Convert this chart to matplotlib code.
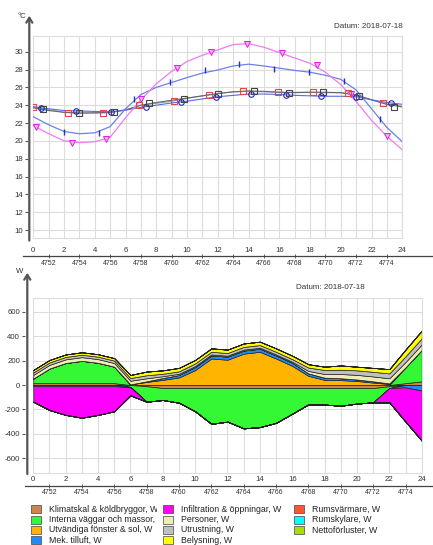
import matplotlib
matplotlib.use('Agg')
import matplotlib.pyplot as plt
import numpy as np
from matplotlib.patches import Rectangle
from matplotlib.lines import Line2D
from matplotlib.transforms import Bbox, TransformedBbox

plt.rcParams['font.family'] = ['Liberation Sans', 'DejaVu Sans']
plt.rcParams['axes.unicode_minus'] = False

W, H = 433, 545

hours = list(range(25))
year_hours = ['4752', '4754', '4756', '4758', '4760', '4762',
              '4764', '4766', '4768', '4770', '4772', '4774']
datum = 'Datum: 2018-07-18'

# --- temperatures, hourly lines ---
t_pink = [21.7, 20.8, 20.0, 19.8, 19.9, 20.4, 22.6, 24.6, 26.4, 27.8, 28.9, 29.6, 30.2,
          30.8, 30.9, 30.5, 29.9, 29.3, 28.7, 27.7, 26.3, 24.4, 22.3, 20.5, 19.0]
t_blue = [22.7, 21.8, 21.05, 20.8, 20.9, 21.6, 23.6, 25.2, 26.0, 26.55, 27.1, 27.6, 27.95,
          28.4, 28.6, 28.4, 28.15, 27.9, 27.7, 27.35, 26.9, 25.7, 23.6, 21.5, 19.9]
t_red = [23.85, 23.5, 23.2, 23.15, 23.1, 23.15, 23.5, 24.0, 24.2, 24.45, 24.75, 25.05, 25.3,
         25.5, 25.55, 25.5, 25.45, 25.45, 25.45, 25.4, 25.4, 25.2, 24.6, 24.1, 23.9]
t_circ = [23.8, 23.6, 23.4, 23.35, 23.3, 23.25, 23.45, 23.75, 24.0, 24.25, 24.45, 24.7, 24.95,
          25.1, 25.25, 25.25, 25.2, 25.1, 25.05, 25.0, 25.0, 24.95, 24.6, 24.3, 24.1]
t_gray = [23.7, 23.4, 23.2, 23.1, 23.15, 23.2, 23.45, 24.0, 24.3, 24.55, 24.8, 25.05, 25.3,
          25.5, 25.6, 25.55, 25.45, 25.4, 25.45, 25.45, 25.4, 25.1, 24.6, 24.1, 23.8]

# marker positions
m_pink_h = [0.18, 2.49, 4.76, 7.03, 9.34, 11.59, 13.88, 16.15, 18.42, 20.65, 22.98]
m_pink_t = [21.5, 19.8, 20.2, 24.7, 28.2, 30.0, 30.9, 29.8, 28.5, 25.3, 20.55]
m_blue_h = [2.01, 4.28, 6.55, 8.87, 11.14, 13.4, 15.67, 17.94, 20.21, 22.53]
m_blue_t = [21.0, 20.9, 24.7, 26.6, 27.9, 28.6, 28.1, 27.7, 26.75, 22.5]
m_red_h = [0.0, 2.27, 4.54, 6.85, 9.13, 11.4, 13.66, 15.93, 18.22, 20.49, 22.76]
m_red_t = [23.85, 23.15, 23.1, 24.0, 24.45, 25.15, 25.55, 25.45, 25.45, 25.4, 24.2]
m_circ_h = [0.48, 2.77, 5.04, 7.31, 9.58, 11.87, 14.16, 16.43, 18.7, 20.97, 23.28]
m_circ_t = [23.7, 23.35, 23.25, 23.85, 24.35, 24.9, 25.25, 25.15, 25.05, 24.95, 24.2]
m_gray_h = [0.65, 2.94, 5.23, 7.5, 9.77, 12.04, 14.33, 16.6, 18.87, 21.19, 23.46]
m_gray_t = [23.55, 23.1, 23.2, 24.2, 24.7, 25.25, 25.6, 25.4, 25.45, 25.05, 23.85]

# --- heat balance, W ---
klimatskal = [15, 15, 15, 15, 15, 15, 0, -10, -25, -25, -25, -25, -25, -25, -25, -25, -25,
              -25, -25, -25, -25, -25, -10, 15, 30]
interna = [38, 120, 165, 183, 167, 135, -15, -127, -98, -120, -190, -293, -275, -330, -320,
           -285, -210, -133, -135, -145, -127, -117, -15, 130, 257]
fonster = [0, 0, 0, 0, 0, 0, 5, 25, 42, 62, 122, 217, 207, 257, 272, 217, 157, 75, 42, 40,
           33, 20, 8, 0, 0]
tilluft = [-10, -10, -10, -10, -10, -10, -5, 5, 15, 20, 25, 25, 25, 25, 25, 25, 25, 20, 18,
           15, 12, 10, 5, -20, -45]
infiltration = [-127, -195, -235, -258, -235, -205, -65, 0, 0, 0, 0, 0, 0, 0, 0, 0, 0, 0, 0,
                0, 0, 0, -117, -280, -410]
personer = [30, 30, 30, 30, 30, 30, 30, 25, 15, 10, 8, 8, 8, 8, 8, 8, 8, 20, 30, 35, 38, 40,
            42, 43, 45]
utrustning = [20, 20, 20, 20, 20, 20, 22, 25, 20, 20, 22, 22, 22, 22, 22, 22, 22, 28, 33, 35,
              37, 38, 40, 47, 50]
belysning = [20, 20, 20, 20, 20, 20, 25, 30, 28, 28, 28, 28, 28, 28, 28, 28, 28, 27, 27, 35,
             30, 32, 35, 55, 63]
rumsvarmare = [0] * 25
rumskylare = [0] * 25
nettoforluster = [0] * 25

series = [klimatskal, interna, fonster, tilluft, infiltration, personer, utrustning,
          belysning, rumsvarmare, rumskylare, nettoforluster]
labels = ['Klimatskal & köldbryggor, W', 'Interna väggar och massor, W',
          'Utvändiga fönster & sol, W', 'Mek. tilluft, W', 'Infiltration & öppningar, W',
          'Personer, W', 'Utrustning, W', 'Belysning, W', 'Rumsvärmare, W',
          'Rumskylare, W', 'Nettoförluster, W']
colors = ['#D0844A', '#33F833', '#FFB400', '#1E8CFF', '#FF00FF', '#EEEEB4', '#C0C0C0',
          '#FFFF00', '#FF5533', '#00FFFF', '#AADD00']

fig = plt.figure(figsize=(W / 100, H / 100), dpi=100)
grid_c = '#dcdcdc'
txt_c = '#333333'
fs = 5.6

# ---------------- top chart ----------------
ax1 = fig.add_axes([33.3 / W, 1 - 238.3 / H, 369 / W, 202.3 / H])
ax1.set_xlim(0, 24)
ax1.set_ylim(9.07, 31.76)
ax1.set_xticks(range(0, 25, 2))
ax1.set_xticks(range(25), minor=True)
ax1.set_yticks(range(10, 31, 2))
ax1.grid(which='both', axis='x', color=grid_c, lw=0.8)
ax1.grid(which='major', axis='y', color=grid_c, lw=0.8)
ax1.set_axisbelow(True)
for s in ['top', 'right', 'bottom']:
    ax1.spines[s].set_color(grid_c)
ax1.spines['left'].set_position(('outward', 4))
ax1.spines['left'].set_visible(False)
ax1.tick_params(axis='x', which='both', length=0, pad=6.3, labelsize=fs, labelcolor=txt_c)
ax1.tick_params(axis='y', length=2.5, width=0.8, color='#555555', pad=1,
                labelsize=fs, labelcolor=txt_c)

ax1.plot(hours, t_red, color='#9AA2C8', lw=0.8)
ax1.plot(hours, t_gray, color='#666666', lw=0.8)
ax1.plot(hours, t_circ, color='#5A6AE0', lw=0.8)
ax1.plot(hours, t_blue, color='#6E80E8', lw=0.9)
ax1.plot(hours, t_pink, color='#F07CF0', lw=0.9)
ax1.plot(m_pink_h, m_pink_t, ls='none', marker='v', ms=4.3, mfc='#F5B0F5', mec='#DD22DD', mew=0.7)
ax1.plot(m_blue_h, m_blue_t, ls='none', marker=r'$\mathrm{I}$', ms=4.5, color='#2030C0')
ax1.plot(m_red_h, m_red_t, ls='none', marker='s', ms=4, mfc='none', mec='#E04848', mew=0.8)
ax1.plot(m_circ_h, m_circ_t, ls='none', marker='o', ms=4, mfc='none', mec='#2028C0', mew=0.8)
ax1.plot(m_gray_h, m_gray_t, ls='none', marker='s', ms=4, mfc='none', mec='#444444', mew=0.8)

ax1.annotate('', xy=(-4 / 369, 1.114), xytext=(-4 / 369, -0.025), xycoords='axes fraction',
             arrowprops=dict(arrowstyle='->,head_length=0.35,head_width=0.22',
                             color='#555555', lw=1.6))
fig.text(26 / W, 1 - 17 / H, '°C', ha='right', va='center', fontsize=fs, color=txt_c)
fig.text(368 / W, 1 - 27 / H, datum, ha='center', va='center', fontsize=5.8, color=txt_c)

sec1 = ax1.secondary_xaxis(-0.087)
sec1.set_xticks(range(1, 24, 2), labels=year_hours)
sec1.tick_params(direction='inout', length=3, width=0.6, color='#444444', pad=1.2,
                 labelsize=5, labelcolor=txt_c)
sec1.spines['bottom'].set_visible(False)
fig.add_artist(Line2D([23 / W, 1.0], [1 - 256 / H] * 2, color='#444444', lw=0.9))

# ---------------- bottom chart ----------------
ax2 = fig.add_axes([33.3 / W, 1 - 473.3 / H, 388.4 / W, 175 / H])
ax2.set_xlim(0, 24)
ax2.set_ylim(-723, 710)
ax2.set_xticks(range(0, 25, 2))
ax2.set_xticks(range(25), minor=True)
ax2.set_yticks(range(-600, 601, 200))
ax2.grid(which='both', axis='x', color=grid_c, lw=0.8)
ax2.grid(which='major', axis='y', color=grid_c, lw=0.8)
ax2.set_axisbelow(True)
for s in ['top', 'right', 'bottom']:
    ax2.spines[s].set_color(grid_c)
ax2.spines['left'].set_position(('outward', 6))
ax2.spines['left'].set_visible(False)
ax2.tick_params(axis='x', which='both', length=0, pad=2.2, labelsize=fs, labelcolor=txt_c)
ax2.tick_params(axis='y', length=2.5, width=0.8, color='#555555', pad=1,
                labelsize=fs, labelcolor=txt_c)

pos_base = np.zeros(len(hours))
neg_base = np.zeros(len(hours))
for vals, col in zip(series, colors):
    v = np.array(vals, dtype=float)
    p = np.clip(v, 0, None)
    n = np.clip(v, None, 0)
    ax2.fill_between(hours, pos_base, pos_base + p, facecolor=col, edgecolor='#222222', lw=0.5)
    ax2.fill_between(hours, neg_base, neg_base + n, facecolor=col, edgecolor='#222222', lw=0.5)
    pos_base += p
    neg_base += n

ax2.annotate('', xy=(-6 / 388.4, 1.162), xytext=(-6 / 388.4, -0.02), xycoords='axes fraction',
             arrowprops=dict(arrowstyle='->,head_length=0.35,head_width=0.22',
                             color='#555555', lw=1.6))
fig.text(23 / W, 1 - 271 / H, 'W', ha='right', va='center', fontsize=fs, color=txt_c)
fig.text(330 / W, 1 - 287.3 / H, datum, ha='center', va='center', fontsize=5.8, color=txt_c)

sec2 = ax2.secondary_xaxis(-0.0709)
sec2.set_xticks(range(1, 24, 2), labels=year_hours)
sec2.tick_params(direction='inout', length=3, width=0.6, color='#444444', pad=1.2,
                 labelsize=5, labelcolor=txt_c)
sec2.spines['bottom'].set_visible(False)
fig.add_artist(Line2D([25 / W, 1.0], [1 - 485.7 / H] * 2, color='#444444', lw=0.9))

# ---------------- legend ----------------
col_patch_x = [31, 163, 294]
col_text_x = [49, 181, 312]
row_y = [509.3, 519.6, 530, 540.3]
slots = [(0, 0), (0, 1), (0, 2), (0, 3), (1, 0), (1, 1), (1, 2), (1, 3),
         (2, 0), (2, 1), (2, 2)]
clip1 = TransformedBbox(Bbox.from_extents(0, 0, 157 / W, 1), fig.transFigure)
for (c, r), lab, col in zip(slots, labels, colors):
    y = row_y[r]
    fig.add_artist(Rectangle((col_patch_x[c] / W, 1 - (y + 4) / H), 9.5 / W, 8 / H,
                             transform=fig.transFigure, facecolor=col,
                             edgecolor='#444444', lw=0.5))
    t = fig.text(col_text_x[c] / W, 1 - y / H, lab, ha='left', va='center',
                 fontsize=6.3, color='#222222')
    if c == 0:
        t.set_clip_box(clip1)
        t.set_clip_on(True)

fig.savefig('out.png', dpi=100)
